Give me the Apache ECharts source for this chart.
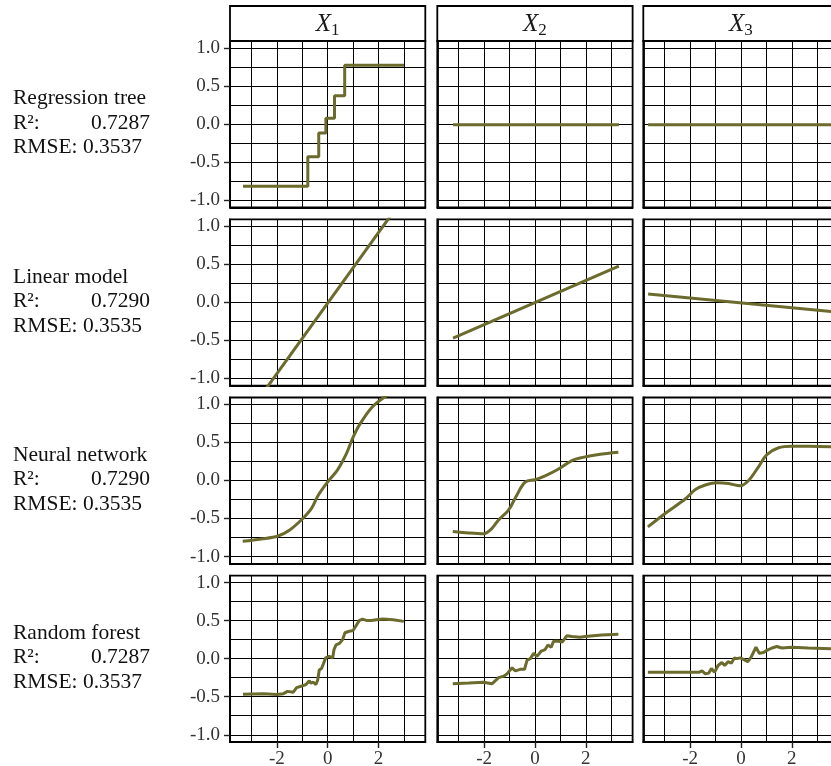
<!DOCTYPE html>
<html><head><meta charset="utf-8">
<script src="https://cdn.jsdelivr.net/npm/echarts@6/dist/echarts.min.js"></script>
<style>html,body{margin:0;padding:0;background:#fff}#c{width:831px;height:766px}</style>
</head><body><div id="c"></div>
<script>
// ---- data ----
const variableSubscripts = ['1', '2', '3'];
const models = ['Regression tree', 'Linear model', 'Neural network', 'Random forest'];
const r2Values = ['0.7287', '0.7290', '0.7290', '0.7287'];
const rmseValues = ['0.3537', '0.3535', '0.3535', '0.3537'];
const yTickValues = [-1, -0.5, 0, 0.5, 1];
const xTickValues = [-2, 0, 2];
const xGridValues = [-3, -2, -1, 0, 1, 2, 3];
const yGridValues = [-1, -0.75, -0.5, -0.25, 0, 0.25, 0.5, 0.75, 1];

// Regression tree (step function)
const treeX1 = [[-3.33,-0.82],[-0.78,-0.43],[-0.35,-0.12],[-0.07,0.075],[0.27,0.37],[0.67,0.77],[3.0,0.77]];
const treeX2 = [[-3.22,-0.01],[3.3,-0.01]];
const treeX3 = [[-3.65,-0.01],[3.65,-0.01]];
// Linear model
const lmX1 = [[-3.33,-1.557],[3.0,1.38]];
const lmX2 = [[-3.22,-0.47],[3.3,0.475]];
const lmX3 = [[-3.65,0.11],[3.65,-0.125]];
// Neural network
const nnX1 = [[-3.34,-0.80],[-2.61,-0.77],[-1.95,-0.73],[-1.49,-0.65],[-1.04,-0.52],[-0.64,-0.37],[-0.38,-0.20],[0.0,-0.02],[0.39,0.14],[0.72,0.34],[0.99,0.56],[1.25,0.73],[1.71,0.95],[2.17,1.08],[2.6,1.16],[3.0,1.21]];
const nnX2 = [[-3.23,-0.67],[-2.6,-0.69],[-2.02,-0.70],[-1.75,-0.65],[-1.43,-0.52],[-1.04,-0.39],[-0.71,-0.19],[-0.38,-0.02],[0.01,0.01],[0.4,0.06],[0.93,0.15],[1.45,0.26],[1.84,0.30],[2.5,0.34],[3.28,0.37]];
const nnX3 = [[-3.66,-0.61],[-2.97,-0.43],[-2.18,-0.24],[-1.79,-0.12],[-1.40,-0.06],[-0.94,-0.03],[-0.49,-0.04],[-0.03,-0.07],[0.30,0.00],[0.69,0.18],[1.02,0.34],[1.48,0.43],[2.0,0.45],[2.65,0.45],[3.65,0.44]];
// Random forest
const rfX1 = [[-3.33,-0.466],[-2.52,-0.46],[-2.0,-0.47],[-1.74,-0.46],[-1.58,-0.43],[-1.35,-0.44],[-1.22,-0.38],[-1.02,-0.36],[-0.85,-0.34],[-0.72,-0.29],[-0.67,-0.32],[-0.56,-0.31],[-0.46,-0.34],[-0.39,-0.28],[-0.33,-0.15],[-0.24,-0.13],[-0.17,-0.07],[-0.08,0.01],[0.06,0.03],[0.2,0.01],[0.25,0.12],[0.33,0.18],[0.46,0.20],[0.59,0.25],[0.68,0.34],[0.85,0.36],[1.0,0.37],[1.11,0.43],[1.24,0.50],[1.37,0.52],[1.55,0.50],[1.72,0.50],[1.92,0.51],[2.18,0.52],[2.57,0.51],[3.0,0.49]];
const rfX2 = [[-3.23,-0.33],[-2.6,-0.32],[-2.02,-0.31],[-1.69,-0.33],[-1.43,-0.25],[-1.23,-0.23],[-1.10,-0.20],[-0.90,-0.12],[-0.77,-0.16],[-0.58,-0.14],[-0.41,-0.14],[-0.31,-0.02],[-0.18,0.0],[-0.05,0.07],[0.08,0.03],[0.25,0.10],[0.40,0.12],[0.51,0.18],[0.64,0.15],[0.73,0.23],[0.93,0.23],[1.08,0.22],[1.25,0.30],[1.45,0.29],[1.78,0.28],[1.97,0.29],[2.63,0.31],[3.28,0.32]];
const rfX3 = [[-3.66,-0.18],[-2.84,-0.18],[-1.99,-0.18],[-1.66,-0.18],[-1.53,-0.16],[-1.40,-0.20],[-1.27,-0.19],[-1.16,-0.13],[-1.04,-0.18],[-0.90,-0.09],[-0.75,-0.05],[-0.64,-0.09],[-0.51,-0.04],[-0.38,-0.06],[-0.26,0.01],[-0.16,0.0],[-0.03,0.01],[0.10,-0.01],[0.27,-0.04],[0.40,0.02],[0.59,0.15],[0.72,0.07],[0.89,0.08],[1.02,0.11],[1.22,0.14],[1.41,0.16],[1.61,0.14],[2.0,0.15],[2.65,0.14],[3.65,0.13]];

const curves = [
  [treeX1, treeX2, treeX3],
  [lmX1, lmX2, lmX3],
  [nnX1, nnX2, nnX3],
  [rfX1, rfX2, rfX3]
];

// ---- layout / style ----
const FONT = 'Liberation Serif';
const LINE_COLOR = '#6b6b2d';
const colLeft = [230, 437.3, 643.3];
const panelW = 195.3;
const rowTop = [41, 219.3, 397.5, 575.7];
const panelH = 166.3;
const X_MIN = -3.84, X_MAX = 3.84, Y_MIN = -1.095, Y_MAX = 1.09;

const grids = [], xAxes = [], yAxes = [], series = [], graphics = [];

for (let r = 0; r < 4; r++) {
  for (let c = 0; c < 3; c++) {
    const i = r * 3 + c;
    grids.push({
      left: colLeft[c], top: rowTop[r], width: panelW, height: panelH,
      show: true, borderColor: '#000', borderWidth: 1.8, backgroundColor: '#fff',
      containLabel: false, outerBoundsMode: 'none'
    });
    xAxes.push({
      type: 'value', gridIndex: i, min: X_MIN, max: X_MAX, position: 'bottom',
      splitLine: { show: false },
      axisLine: { show: true, onZero: false, lineStyle: { color: '#000', width: 1.8 } },
      axisTick: { show: r === 3, customValues: xTickValues, length: 6, lineStyle: { color: '#222', width: 1.4 } },
      axisLabel: { show: r === 3, customValues: xTickValues, margin: 8, fontFamily: FONT, fontSize: 19, color: '#333',
        formatter: v => String(v) }
    });
    yAxes.push({
      type: 'value', gridIndex: i, min: Y_MIN, max: Y_MAX, position: 'left',
      splitLine: { show: false },
      axisLine: { show: true, onZero: false, lineStyle: { color: '#000', width: 1.8 } },
      axisTick: { show: c === 0, customValues: yTickValues, length: 6, lineStyle: { color: '#222', width: 1.4 } },
      axisLabel: { show: c === 0, customValues: yTickValues, margin: 10, fontFamily: FONT, fontSize: 19, color: '#333',
        formatter: v => v.toFixed(1) }
    });
    // grid lines
    series.push({
      type: 'line', xAxisIndex: i, yAxisIndex: i, data: [], silent: true, z: 1, animation: false,
      markLine: {
        silent: true, z: 1, symbol: ['none', 'none'], label: { show: false }, animation: false,
        lineStyle: { color: '#000', width: 1, type: 'solid' },
        emphasis: { disabled: true },
        data: xGridValues.map(v => ({ xAxis: v })).concat(yGridValues.map(v => ({ yAxis: v })))
      }
    });
    // data curve
    series.push({
      type: 'line', xAxisIndex: i, yAxisIndex: i, data: curves[r][c],
      showSymbol: false, symbol: 'none', silent: true, z: 8, clip: true, animation: false,
      step: (r === 0 && c === 0) ? 'end' : false,
      smooth: r === 2 ? 0.35 : false,
      lineStyle: { color: LINE_COLOR, width: 3 }
    });
  }
}

// header strips
for (let c = 0; c < 3; c++) {
  graphics.push({
    type: 'rect', z: 10,
    shape: { x: colLeft[c], y: 6, width: panelW, height: 35 },
    style: { fill: '#fff', stroke: '#000', lineWidth: 1.8 }
  });
  graphics.push({
    type: 'text', z: 11, x: colLeft[c] + panelW / 2, y: 24,
    style: {
      text: '{i|X}{s|' + variableSubscripts[c] + '}',
      align: 'center', verticalAlign: 'middle',
      rich: {
        i: { fontFamily: FONT, fontStyle: 'italic', fontSize: 25, lineHeight: 30, fill: '#1a1a1a' },
        s: { fontFamily: FONT, fontSize: 17, lineHeight: 20, verticalAlign: 'bottom', fill: '#1a1a1a' }
      }
    }
  });
}

// row labels
for (let r = 0; r < 4; r++) {
  const cy = rowTop[r] + panelH / 2;
  const base = { fontFamily: FONT, fontSize: 21.5, fill: '#111', verticalAlign: 'middle' };
  graphics.push({ type: 'text', x: 13, y: cy - 25.5, style: Object.assign({ text: models[r], align: 'left' }, base) });
  graphics.push({ type: 'text', x: 13, y: cy - 1, style: Object.assign({ text: 'R²:', align: 'left' }, base) });
  graphics.push({ type: 'text', x: 150, y: cy - 1, style: Object.assign({ text: r2Values[r], align: 'right' }, base) });
  graphics.push({ type: 'text', x: 13, y: cy + 23.5, style: Object.assign({ text: 'RMSE: ' + rmseValues[r], align: 'left' }, base) });
}

const chart = echarts.init(document.getElementById('c'), null, { renderer: 'canvas' });
chart.setOption({
  backgroundColor: '#fff',
  animation: false,
  grid: grids, xAxis: xAxes, yAxis: yAxes, series: series, graphic: graphics
});
</script></body></html>
